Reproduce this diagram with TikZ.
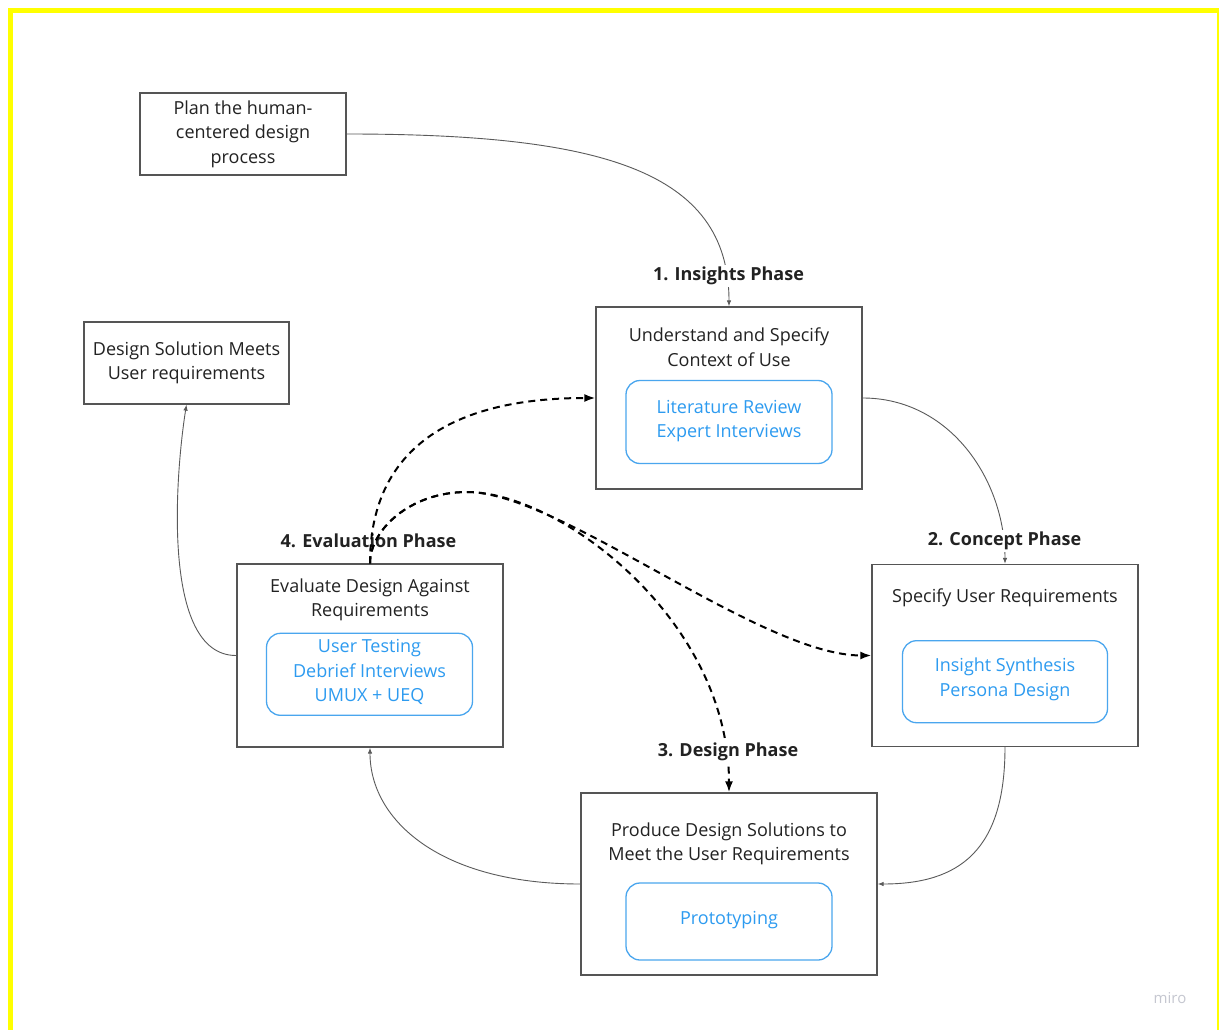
\documentclass[tikz,border=0pt]{standalone}
\usepackage{fontspec}
\setmainfont{Open Sans}
\usetikzlibrary{arrows.meta}
\definecolor{boxline}{HTML}{555555}
\definecolor{conline}{HTML}{5A5A5A}
\definecolor{txt}{HTML}{222222}
\definecolor{blu}{HTML}{2D9BF0}
\definecolor{blubord}{HTML}{4AA6EE}
\definecolor{yel}{HTML}{FFFF00}
\definecolor{wm}{HTML}{C5C7D0}
\tikzset{
  outerbox/.style={draw=boxline, line width=1.3pt, minimum width=#1, inner sep=0pt},
  innerbox/.style={draw=blubord, line width=1.3pt, rounded corners=14pt, inner sep=0pt},
  ttl/.style={text=txt, align=center, font=\fontsize{18}{24.5}\selectfont, inner sep=0pt},
  btxt/.style={text=blu, align=center, font=\fontsize{18}{24.5}\selectfont, inner sep=0pt},
  phase/.style={text=txt, font=\fontsize{18}{24}\selectfont\bfseries, inner sep=2pt},
  conn/.style={draw=conline, line width=0.9pt, -{Latex[length=6pt,width=4.5pt]}},
  dconn/.style={draw=black, line width=2pt, dash pattern=on 7pt off 5pt, -{Latex[length=11pt,width=8pt]}}
}
\begin{document}
\begin{tikzpicture}[x=1pt,y=-1pt]
\useasboundingbox (0,0) rectangle (1219,1030);
\fill[white] (0,0) rectangle (1219,1030);
\draw[yel, line width=5pt] (10.5,10.5) rectangle (1219.3,1040);

% outer boxes
\node[outerbox=206pt, minimum height=82pt] (plan) at (243,134) {};
\node[ttl] (plant) at (243,134) {Plan the human-\\centered design\\process};

\node[outerbox=205pt, minimum height=82pt] (dsm) at (186.5,363) {};
\node[ttl] (dsmt) at (186.5,363) {Design Solution Meets\\User requirements};

\node[outerbox=266pt, minimum height=182pt] (ins) at (729,398) {};
\node[ttl] (inst) at (729,347) {Understand and Specify\\Context of Use};
\node[innerbox, minimum width=206pt, minimum height=83pt] (insi) at (729,422) {};
\node[btxt] (insit) at (729,421) {Literature Review\\Expert Interviews};

\node[outerbox=266pt, minimum height=182pt] (con) at (1005,655.5) {};
\node[ttl] (cont) at (1005,597.5) {Specify User Requirements};
\node[innerbox, minimum width=205pt, minimum height=82pt] (coni) at (1005,681.7) {};
\node[btxt] (conit) at (1005,679.5) {Insight Synthesis\\Persona Design};

\node[outerbox=296pt, minimum height=182pt] (des) at (729,884) {};
\node[ttl] (dest) at (729,844) {Produce Design Solutions to\\Meet the User Requirements};
\node[innerbox, minimum width=206pt, minimum height=77pt] (desi) at (729,921.5) {};
\node[btxt] (desit) at (729,920) {Prototyping};

\node[outerbox=266pt, minimum height=183pt] (eval) at (370,655.5) {};
\node[ttl] (evalt) at (370,600) {Evaluate Design Against\\Requirements};
\node[innerbox, minimum width=206pt, minimum height=82pt] (evali) at (369.5,674.3) {};
\node[btxt] (evalit) at (369.5,672) {User Testing\\Debrief Interviews\\UMUX + UEQ};

% phase label 4 (under the dashed lines)
\node[phase] (l4) at (368.5,541) {4. Evaluation Phase};

% solid connectors
\draw[conn] (plan.east) .. controls (600,134) and (729,170) .. (ins.north);
\draw[conn] (ins.east) .. controls (950,398) and (1005,480) .. (con.north);
\draw[conn] (con.south) .. controls (1005,850) and (960,884) .. (des.east);
\draw[conn] (des.west) .. controls (440,884) and (370,820) .. (eval.south);
\draw[conn] (eval.west) .. controls (160,656) and (176,470) .. (dsm.south);

% dashed connectors
\coordinate (pk) at (467,492);
\draw[dconn] (eval.north) .. controls (370,450) and (450,398) .. (ins.west);
\draw[dconn] (eval.north) .. controls (370,530) and (410,492) .. (pk) .. controls (560,492) and (760,655.5) .. (con.west);
\draw[dconn] (eval.north) .. controls (370,530) and (410,492) .. (pk) .. controls (560,492) and (729,620) .. (des.north);

% phase labels over the connectors
\node[phase, fill=white] (l1) at (728.5,276) {1. Insights Phase};
\node[phase, fill=white] (l2) at (1004.5,541) {2. Concept Phase};
\node[phase, fill=white] (l3) at (728,752) {3. Design Phase};

\node[text=wm, font=\fontsize{15}{18}\selectfont, inner sep=0pt] (miro) at (1170,998) {miro};
\end{tikzpicture}
\end{document}
